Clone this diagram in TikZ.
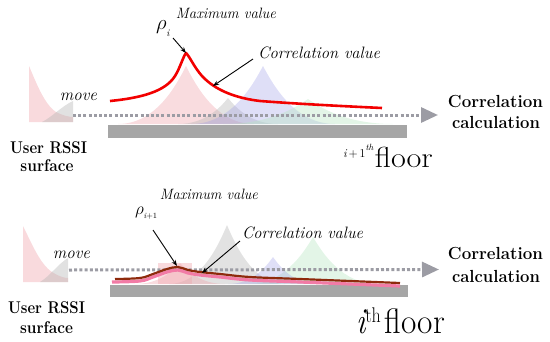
\documentclass[tikz,border=0pt]{standalone}
\usepackage{graphicx}
\usetikzlibrary{arrows.meta}
\newcommand\fsz[1]{\fontsize{#1}{#1}\selectfont}
\newcommand\wtxt[2]{\resizebox{#1}{\height}{#2}}
% #1 style, #2 peak x, #3 peak y, #4 half width, #5 base y
\newcommand\distshape[5]{%
  \fill[#1] ({#2-#4},#5) .. controls ({#2-0.45*#4},#5) and ({#2-0.15*#4},{#3+0.35*(#5-#3)}) .. (#2,#3)
     .. controls ({#2+0.15*#4},{#3+0.35*(#5-#3)}) and ({#2+0.45*#4},#5) .. ({#2+#4},#5) -- cycle;}
\definecolor{barG}{HTML}{A6A6A6}
\definecolor{dotG}{HTML}{9C9CA4}
\definecolor{distP}{HTML}{EFA3AB}
\definecolor{distG}{HTML}{B4B4B4}
\definecolor{distB}{HTML}{9C9CE6}
\definecolor{distGr}{HTML}{B8E6C2}
\definecolor{curveR}{HTML}{F20000}
\definecolor{curveD}{HTML}{8E2A0C}
\definecolor{curveP}{HTML}{F27BA6}
\begin{document}
\begin{tikzpicture}[x=1pt,y=-1pt,
  every node/.style={inner sep=0pt,outer sep=0pt},
  arr/.style={-{Stealth[length=6pt,width=4.5pt]},line width=0.9pt,black},
  dotline/.style={dotG,line width=3pt,dash pattern=on 3pt off 2.2pt,
     -{Triangle[length=17pt,width=15pt]}},
  bar/.style={fill=barG},
  pP/.style={distP,opacity=0.38},
  pG/.style={distG,opacity=0.38},
  pB/.style={distB,opacity=0.32},
  pGr/.style={distGr,opacity=0.4}]
\useasboundingbox (0,0) rectangle (550,341);

% ================= TOP PANEL =================
\fill[distP,opacity=0.4] (29,122) -- (29,66) .. controls (36,82) and (44,104) .. (56,112) .. controls (64,116) and (70,117) .. (73,117) -- (73,122) -- cycle;
\fill[distG,opacity=0.4] (42,122) .. controls (52,117) and (62,106) .. (73,101) -- (73,122) -- cycle;
\distshape{pP}{186}{66}{68}{124}
\distshape{pG}{228}{98}{50}{124}
\distshape{pB}{263}{66}{72}{124}
\distshape{pGr}{308}{99}{85}{124}
\fill[bar] (108,125) rectangle (407,138);
\coordinate (mvT0) at (73,115);
\coordinate (mvT1) at (438,115);
\draw[dotline] (mvT0) -- (mvT1);
\coordinate (pkT) at (186,53);
\draw[curveR,line width=2.6pt,line join=round]
  (110,101) .. controls (140,98) and (165,92) .. (175,76) .. controls (180,68) and (183,57) .. (186,53)
  .. controls (190,57) and (194,67) .. (202,76) .. controls (215,90) and (235,98) .. (260,101)
  .. controls (300,104) and (340,106) .. (382,108);
\coordinate (cvT) at (213,86);
\node[anchor=base] (maxT) at (226,18) {\wtxt{100pt}{\fsz{15}\itshape Maximum value}};
\node[anchor=base west] (rhoT) at (156,29) {\fsz{21}$\rho$\raisebox{-7pt}{\fsz{10}\itshape i}};
\coordinate (rhoTa) at (173,38);
\draw[arr] (rhoTa) -- (pkT);
\node[anchor=base] (corrT) at (319,58) {\wtxt{122pt}{\fsz{16.5}\itshape Correlation value}};
\coordinate (corrTa) at (253,59);
\draw[arr] (corrTa) -- (cvT);
\node[anchor=base] (moveT) at (78.5,100) {\wtxt{37pt}{\fsz{17}\itshape move}};
\node[anchor=base] (userT1) at (48.5,153) {\wtxt{77pt}{\fsz{17}\bfseries User RSSI}};
\node[anchor=base] (userT2) at (47,171) {\wtxt{53pt}{\fsz{17}\bfseries surface}};
\node[anchor=base] (calcT1) at (495.5,107) {\wtxt{95pt}{\fsz{17.5}\bfseries Correlation}};
\node[anchor=base] (calcT2) at (496,128) {\wtxt{88pt}{\fsz{17.5}\bfseries calculation}};
\node[anchor=base west] (floorT) at (343,167)
  {\raisebox{10pt}{\fsz{12}\itshape i\,\upshape+\,1}\raisebox{17pt}{\fsz{9}\itshape th}\hspace{1.5pt}\wtxt{58pt}{\fsz{29}floor}};

% ================= BOTTOM PANEL =================
\fill[distP,opacity=0.4] (23,282) -- (23,226) .. controls (32,244) and (40,264) .. (52,272) .. controls (60,277) and (65,278) .. (68,278) -- (68,282) -- cycle;
\fill[distG,opacity=0.4] (40,282) .. controls (50,276) and (58,264) .. (68,258) -- (68,282) -- cycle;
\distshape{pG}{227}{225}{58}{284}
\distshape{pGr}{313}{237}{65}{284}
\distshape{pB}{273}{257}{45}{284}
\fill[distP,opacity=0.4] (158,263) rectangle (192,284);
\distshape{pP}{180}{263}{45}{284}
\fill[bar] (110,285) rectangle (408,297);
\coordinate (mvB0) at (69,270);
\coordinate (mvB1) at (439,269.5);
\draw[dotline] (mvB0) -- (mvB1);
\draw[curveP,line width=3.2pt,line join=round]
  plot[smooth,tension=0.6] coordinates {(112,282) (140,281) (153,277) (167,272) (178,270) (188,273) (200,275) (220,277) (250,280) (300,282) (400,286)};
\draw[curveD,line width=2.2pt,line join=round]
  plot[smooth,tension=0.6] coordinates {(115,279) (140,278) (153,274) (167,269) (178,267) (188,270) (200,272) (220,274) (250,277) (300,279) (400,283)};
\coordinate (pkB) at (177,266);
\coordinate (cvB) at (202,273);
\node[anchor=base] (maxB) at (209,199) {\wtxt{98pt}{\fsz{15}\itshape Maximum value}};
\node[anchor=base west] (rhoB) at (135,214) {\fsz{18}$\rho$\raisebox{-4pt}{\fsz{8}\itshape i\upshape+1}};
\coordinate (rhoBa) at (153,230);
\draw[arr] (rhoBa) -- (pkB);
\node[anchor=base] (corrB) at (302.5,238) {\wtxt{121pt}{\fsz{16.5}\itshape Correlation value}};
\coordinate (corrBa) at (240,241);
\draw[arr] (corrBa) -- (cvB);
\node[anchor=base] (moveB) at (71.5,258) {\wtxt{37pt}{\fsz{17}\itshape move}};
\node[anchor=base] (userB1) at (46.5,313) {\wtxt{77pt}{\fsz{17}\bfseries User RSSI}};
\node[anchor=base] (userB2) at (46.5,333) {\wtxt{53pt}{\fsz{17}\bfseries surface}};
\node[anchor=base] (calcB1) at (495.5,259) {\wtxt{95pt}{\fsz{17.5}\bfseries Correlation}};
\node[anchor=base] (calcB2) at (496,282) {\wtxt{88pt}{\fsz{17.5}\bfseries calculation}};
\node[anchor=base west] (floorB) at (356,333)
  {\scalebox{1}[1.18]{{\fsz{31}\itshape i}\raisebox{9pt}{\fsz{18}th}\hspace{4pt}\wtxt{60pt}{\fsz{30}floor}}};
\end{tikzpicture}
\end{document}
